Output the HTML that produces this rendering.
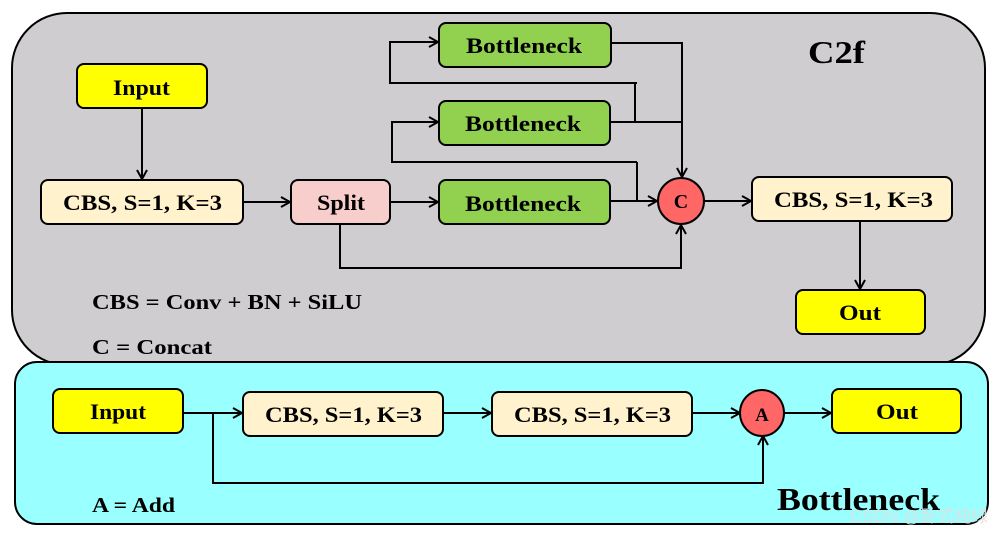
<!DOCTYPE html>
<html><head><meta charset="utf-8"><style>
html,body{margin:0;padding:0;background:#fff;}
svg{display:block;}
text{font-family:"Liberation Serif",serif;font-weight:bold;fill:#000;}
</style></head><body>
<svg width="1006" height="534" viewBox="0 0 1006 534" xmlns="http://www.w3.org/2000/svg">
<defs>
<marker id="a" markerWidth="12" markerHeight="12" refX="10" refY="6" orient="auto" markerUnits="userSpaceOnUse">
<path d="M1,1 L10,6 L1,11" fill="none" stroke="#000" stroke-width="2"/>
</marker>
</defs>
<rect x="12" y="13" width="973" height="352" rx="55" fill="#d0cdd0" stroke="#000" stroke-width="2"/>
<rect x="15" y="362" width="973" height="162" rx="22" fill="#99ffff" stroke="#000" stroke-width="2"/>

<g stroke="#000" stroke-width="2" fill="none">
<line x1="142" y1="108" x2="142" y2="179" marker-end="url(#a)"/>
<line x1="243" y1="202" x2="290" y2="202" marker-end="url(#a)"/>
<line x1="390" y1="202" x2="438" y2="202" marker-end="url(#a)"/>
<polyline points="637,83 390,83 390,42 438,42" marker-end="url(#a)"/>
<polyline points="635,122 635,83"/>
<polyline points="637,162 392,162 392,122 438,122" marker-end="url(#a)"/>
<line x1="637" y1="162" x2="637" y2="201"/>
<polyline points="611,43 682,43 682,177" marker-end="url(#a)"/>
<line x1="610" y1="122" x2="681" y2="122"/>
<line x1="611" y1="201" x2="657" y2="201" marker-end="url(#a)"/>
<polyline points="340,224 340,268 681,268 681,225" marker-end="url(#a)"/>
<line x1="704" y1="201" x2="751" y2="201" marker-end="url(#a)"/>
<line x1="860" y1="221" x2="860" y2="289" marker-end="url(#a)"/>
<line x1="183" y1="413" x2="242" y2="413" marker-end="url(#a)"/>
<line x1="443" y1="413" x2="491" y2="413" marker-end="url(#a)"/>
<line x1="692" y1="413" x2="740" y2="413" marker-end="url(#a)"/>
<line x1="784" y1="413" x2="831" y2="413" marker-end="url(#a)"/>
<polyline points="213,413 213,483 763,483 763,436" marker-end="url(#a)"/>
</g>

<g stroke="#000" stroke-width="2">
<rect x="77" y="64" width="130" height="44" rx="7" fill="#ffff00"/>
<rect x="41" y="180" width="202" height="44" rx="7" fill="#fff2cc"/>
<rect x="291" y="180" width="99" height="44" rx="7" fill="#f8cecc"/>
<rect x="439" y="23" width="172" height="44" rx="7" fill="#92d050"/>
<rect x="439" y="101" width="171" height="44" rx="7" fill="#92d050"/>
<rect x="439" y="180" width="171" height="44" rx="7" fill="#92d050"/>
<circle cx="681" cy="201" r="23" fill="#ff6666"/>
<rect x="752" y="177" width="200" height="44" rx="7" fill="#fff2cc"/>
<rect x="796" y="290" width="129" height="44" rx="7" fill="#ffff00"/>
<rect x="53" y="389" width="130" height="44" rx="7" fill="#ffff00"/>
<rect x="243" y="392" width="200" height="44" rx="7" fill="#fff2cc"/>
<rect x="492" y="392" width="200" height="44" rx="7" fill="#fff2cc"/>
<ellipse cx="762" cy="413" rx="22" ry="23" fill="#ff6666"/>
<rect x="832" y="389" width="129" height="44" rx="7" fill="#ffff00"/>
</g>

<g font-size="22" lengthAdjust="spacingAndGlyphs">
<text x="113" y="95" textLength="57" lengthAdjust="spacingAndGlyphs">Input</text>
<text x="63" y="210" textLength="159" lengthAdjust="spacingAndGlyphs">CBS, S=1, K=3</text>
<text x="317" y="210" textLength="48" lengthAdjust="spacingAndGlyphs">Split</text>
<text x="466" y="53" textLength="116" lengthAdjust="spacingAndGlyphs">Bottleneck</text>
<text x="465" y="131" textLength="116" lengthAdjust="spacingAndGlyphs">Bottleneck</text>
<text x="465" y="211" textLength="116" lengthAdjust="spacingAndGlyphs">Bottleneck</text>
<text x="681" y="208" font-size="20" text-anchor="middle">C</text>
<text x="774" y="207" textLength="159" lengthAdjust="spacingAndGlyphs">CBS, S=1, K=3</text>
<text x="839" y="320" textLength="42" lengthAdjust="spacingAndGlyphs">Out</text>
<text x="90" y="419" textLength="56" lengthAdjust="spacingAndGlyphs">Input</text>
<text x="265" y="422" textLength="157" lengthAdjust="spacingAndGlyphs">CBS, S=1, K=3</text>
<text x="514" y="422" textLength="157" lengthAdjust="spacingAndGlyphs">CBS, S=1, K=3</text>
<text x="762" y="421" font-size="19" text-anchor="middle">A</text>
<text x="876" y="419" textLength="42" lengthAdjust="spacingAndGlyphs">Out</text>
</g>
<text x="808" y="63" font-size="32" textLength="57" lengthAdjust="spacingAndGlyphs">C2f</text>
<text x="92" y="309" font-size="21" textLength="270" lengthAdjust="spacingAndGlyphs">CBS = Conv + BN + SiLU</text>
<text x="92" y="354" font-size="21" textLength="120" lengthAdjust="spacingAndGlyphs">C = Concat</text>
<text x="92" y="512" font-size="21" textLength="83" lengthAdjust="spacingAndGlyphs">A = Add</text>
<text x="777" y="510" font-size="32" textLength="163" lengthAdjust="spacingAndGlyphs">Bottleneck</text>
<text x="850" y="522" font-size="17" style="font-family:'Liberation Sans','Noto Sans CJK SC',sans-serif;font-weight:normal;fill:#e0e0e0;opacity:0.9">CSDN @卧式纯绿</text>
</svg>
</body></html>
